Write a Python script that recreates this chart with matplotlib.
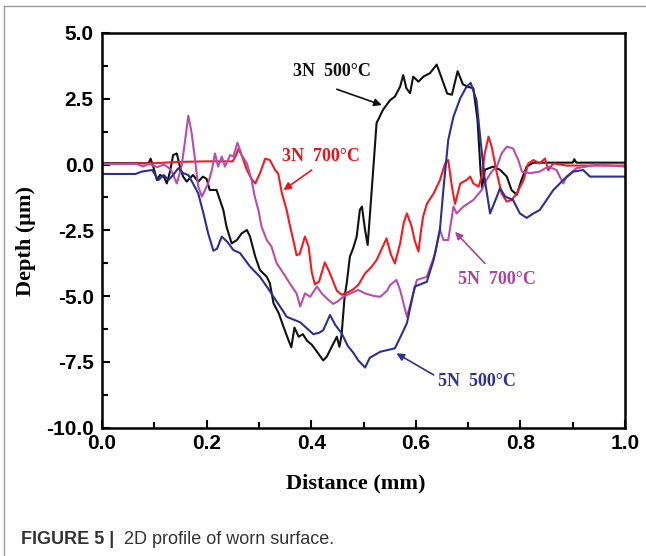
import numpy as np
import matplotlib
matplotlib.use("Agg")
import matplotlib.pyplot as plt
from matplotlib.lines import Line2D
from matplotlib.ticker import MultipleLocator, FormatStrFormatter

# profile traces: distance (mm) vs depth (um)
x_3n500 = [0.0, 0.089, 0.093, 0.098, 0.105, 0.111, 0.118, 0.124, 0.130, 0.136, 0.143, 0.149,
           0.155, 0.162, 0.174, 0.184, 0.193, 0.200, 0.206, 0.219, 0.232, 0.238, 0.248, 0.258,
           0.267, 0.277, 0.283, 0.293, 0.302, 0.315, 0.321, 0.328, 0.338, 0.347, 0.357, 0.362,
           0.368, 0.376, 0.384, 0.392, 0.401, 0.414, 0.423, 0.430, 0.440, 0.449, 0.454, 0.458,
           0.464, 0.468, 0.474, 0.480, 0.487, 0.493, 0.497, 0.503, 0.508, 0.512, 0.519, 0.525,
           0.531, 0.537, 0.551, 0.560, 0.570, 0.576, 0.582, 0.589, 0.595, 0.605, 0.615, 0.627,
           0.640, 0.651, 0.660, 0.669, 0.680, 0.690, 0.700, 0.710, 0.718, 0.724, 0.727, 0.732,
           0.748, 0.761, 0.774, 0.783, 0.793, 0.802, 0.812, 0.825, 0.900, 0.903, 0.907, 1.0]
y_3n500 = [0.05, 0.05, 0.22, -0.08, -0.59, -0.40, -0.46, -0.72, -0.27, 0.36, 0.42, -0.08,
           -0.46, -0.65, -0.40, -0.65, -0.46, -0.55, -0.97, -0.97, -1.73, -2.36, -3.00, -2.87,
           -2.62, -2.49, -2.74, -3.50, -4.01, -4.27, -4.52, -5.28, -5.66, -6.17, -6.70, -6.95,
           -6.20, -6.55, -6.45, -6.70, -6.85, -7.20, -7.45, -7.30, -6.90, -6.55, -6.93, -6.50,
           -5.00, -4.50, -3.50, -3.20, -2.74, -1.73, -1.60, -2.49, -3.06, -1.98, -0.08, 1.58,
           1.82, 2.07, 2.45, 2.58, 2.96, 3.40, 2.90, 2.71, 3.34, 3.15, 3.35, 3.47,
           3.80, 3.20, 2.70, 2.65, 3.55, 3.05, 2.95, 2.90, 1.70, -0.30, -0.90, -0.20,
           -0.08, -0.20, -0.46, -0.97, -1.15, -0.59, -0.08, 0.07, 0.07, 0.20, 0.07, 0.07]

x_3n700 = [0.0, 0.10, 0.15, 0.20, 0.25, 0.256, 0.261, 0.268, 0.277, 0.286, 0.293, 0.302,
           0.312, 0.321, 0.331, 0.337, 0.344, 0.353, 0.359, 0.366, 0.372, 0.378, 0.388, 0.395,
           0.401, 0.407, 0.415, 0.426, 0.435, 0.449, 0.458, 0.468, 0.480, 0.490, 0.503, 0.515,
           0.525, 0.535, 0.544, 0.552, 0.560, 0.570, 0.577, 0.583, 0.592, 0.598, 0.605, 0.610,
           0.614, 0.621, 0.634, 0.646, 0.656, 0.662, 0.669, 0.675, 0.685, 0.697, 0.704, 0.710,
           0.720, 0.726, 0.732, 0.739, 0.745, 0.755, 0.764, 0.774, 0.783, 0.793, 0.806, 0.815,
           0.825, 0.837, 0.847, 0.853, 0.863, 0.888, 1.0]
y_3n700 = [0.02, 0.05, 0.10, 0.12, 0.12, 0.35, 0.60, 0.30, -0.21, -0.55, -0.72, -0.33,
           0.22, 0.17, -0.21, -0.35, -1.10, -1.73, -2.30, -2.90, -3.45, -3.40, -2.74, -3.12,
           -4.10, -4.55, -4.45, -3.72, -4.10, -4.80, -4.95, -4.88, -4.75, -4.58, -4.14, -3.90,
           -3.63, -3.20, -2.81, -3.40, -3.76, -3.00, -2.20, -1.86, -2.36, -2.90, -3.31, -2.50,
           -1.98, -1.50, -1.10, -0.60, 0.04, 0.17, -0.84, -1.50, -0.72, -0.59, -0.46, -0.72,
           -0.84, -0.46, 0.44, 1.06, 0.68, -0.33, -1.10, -1.41, -1.35, -1.10, -0.59, 0.04,
           0.17, 0.04, 0.23, -0.21, 0.04, -0.04, -0.04]

x_5n700 = [0.0, 0.067, 0.078, 0.090, 0.106, 0.118, 0.126, 0.133, 0.143, 0.152, 0.159, 0.165,
           0.171, 0.178, 0.184, 0.191, 0.197, 0.203, 0.210, 0.216, 0.222, 0.229, 0.235, 0.245,
           0.251, 0.259, 0.267, 0.277, 0.286, 0.292, 0.299, 0.305, 0.315, 0.324, 0.334, 0.347,
           0.359, 0.372, 0.379, 0.388, 0.398, 0.411, 0.420, 0.433, 0.442, 0.451, 0.461, 0.475,
           0.490, 0.503, 0.520, 0.532, 0.545, 0.551, 0.563, 0.570, 0.583, 0.592, 0.602, 0.621,
           0.637, 0.646, 0.653, 0.662, 0.672, 0.678, 0.691, 0.710, 0.726, 0.735, 0.745, 0.755,
           0.764, 0.774, 0.786, 0.796, 0.803, 0.818, 0.837, 0.853, 0.869, 0.882, 0.888, 0.907,
           0.926, 0.945, 1.0]
y_5n700 = [0.02, 0.02, -0.08, 0.02, -0.10, 0.00, -0.10, -0.25, -0.72, -0.08, 0.93, 1.85,
           1.25, 0.17, -0.84, -1.22, -0.97, -0.72, -0.21, 0.42, -0.08, 0.30, -0.08, 0.36,
           0.30, 0.83, 0.36, 0.04, -0.59, -1.22, -1.73, -2.36, -2.87, -3.12, -3.76, -4.14,
           -4.52, -4.90, -5.40, -4.90, -5.03, -4.64, -4.90, -5.15, -5.30, -5.20, -5.03, -4.90,
           -4.77, -4.90, -5.00, -5.03, -4.80, -4.58, -4.39, -4.77, -5.79, -5.15, -4.39, -4.27,
           -3.38, -2.49, -2.87, -2.87, -1.60, -1.86, -1.60, -1.35, -0.97, -0.59, -0.27, -0.08,
           0.42, 0.68, 0.61, 0.17, -0.27, -0.33, -0.27, -0.08, -0.21, -0.72, -0.46, -0.14,
           -0.08, 0.00, -0.08]

x_5n500 = [0.0, 0.064, 0.076, 0.096, 0.102, 0.108, 0.118, 0.127, 0.136, 0.146, 0.155, 0.165,
           0.174, 0.184, 0.194, 0.203, 0.213, 0.220, 0.229, 0.240, 0.251, 0.264, 0.283, 0.302,
           0.315, 0.328, 0.347, 0.353, 0.379, 0.404, 0.415, 0.423, 0.436, 0.446, 0.458, 0.470,
           0.481, 0.490, 0.503, 0.512, 0.532, 0.560, 0.572, 0.583, 0.598, 0.621, 0.634, 0.646,
           0.653, 0.662, 0.672, 0.685, 0.697, 0.705, 0.716, 0.723, 0.732, 0.742, 0.755, 0.761,
           0.771, 0.786, 0.799, 0.812, 0.825, 0.837, 0.863, 0.882, 0.901, 0.920, 0.933, 1.0]
y_5n500 = [-0.36, -0.36, -0.27, -0.21, -0.40, -0.59, -0.40, -0.59, -0.40, -0.14, -0.33, -0.40,
           -0.72, -1.10, -1.86, -2.62, -3.28, -3.20, -2.74, -2.95, -3.25, -3.37, -3.88, -4.27,
           -4.64, -5.03, -5.60, -5.79, -6.00, -6.45, -6.40, -6.30, -5.72, -6.10, -6.41, -6.90,
           -7.17, -7.45, -7.72, -7.35, -7.12, -6.99, -6.50, -6.03, -4.64, -4.46, -3.63, -2.49,
           -0.90, 0.93, 1.82, 2.52, 2.96, 3.10, 2.45, 1.06, -0.59, -1.86, -1.22, -0.90,
           -1.22, -1.35, -1.86, -2.03, -1.86, -1.73, -0.97, -0.59, -0.27, -0.21, -0.46, -0.46]

labels = ["3N  500\u00b0C", "3N  700\u00b0C", "5N  700\u00b0C", "5N  500\u00b0C"]
line_colors = ["#111111", "#ee1c24", "#b64fab", "#2b2f8e"]
text_colors = ["#111111", "#e3161d", "#a8449b", "#2e3192"]
# label position, arrow tail, arrow head (data units)
label_xy = [(0.439, 3.52), (0.418, 0.30), (0.755, -4.39), (0.716, -8.26)]
arrow_tail = [(0.449, 2.86), (0.401, -0.21), (0.732, -3.76), (0.634, -8.00)]
arrow_head = [(0.535, 2.26), (0.347, -0.97), (0.675, -2.56), (0.563, -7.18)]

serif = "Liberation Serif"
sans = "Liberation Sans"

fig = plt.figure(figsize=(6.46, 5.56), dpi=100)
ax = fig.add_axes([102 / 646, 1 - 427.5 / 556, 523 / 646, 394.5 / 556])

series = [(x_3n500, y_3n500), (x_3n700, y_3n700), (x_5n700, y_5n700), (x_5n500, y_5n500)]
for (xs, ys), c in zip(series, line_colors):
    ax.plot(xs, ys, color=c, lw=1.5, solid_joinstyle="round")

for lab, c, xy, tail, head in zip(labels, text_colors, label_xy, arrow_tail, arrow_head):
    ax.text(xy[0], xy[1], lab, color=c, ha="center", va="center",
            fontsize=13, fontweight="bold", family=serif)
    ax.annotate("", xy=head, xytext=tail,
                arrowprops=dict(arrowstyle="-|>", color=c, lw=1.2,
                                mutation_scale=11, shrinkA=0, shrinkB=0))

ax.set_xlim(0, 1.0)
ax.set_ylim(-10, 5)
ax.xaxis.set_major_locator(MultipleLocator(0.2))
ax.xaxis.set_minor_locator(MultipleLocator(0.1))
ax.yaxis.set_major_locator(MultipleLocator(2.5))
ax.yaxis.set_minor_locator(MultipleLocator(1.25))
ax.xaxis.set_major_formatter(FormatStrFormatter("%.1f"))
ax.yaxis.set_major_formatter(FormatStrFormatter("%.1f"))
ax.tick_params(which="both", direction="in", top=False, right=False, width=1.5)
ax.tick_params(which="major", length=6)
ax.tick_params(which="minor", length=4.5)
ax.tick_params(axis="x", pad=5)
ax.tick_params(axis="y", pad=6)
for t in ax.get_xticklabels() + ax.get_yticklabels():
    t.set_fontfamily(sans)
    t.set_fontweight("bold")
    t.set_fontsize(15)
for s in ax.spines.values():
    s.set_linewidth(1.8)

ax.set_xlabel("Distance (mm)", family=serif, fontweight="bold", fontsize=16, va="center")
ax.set_ylabel("Depth (\u03bcm)", family=serif, fontweight="bold", fontsize=16, va="center")
ax.xaxis.set_label_coords(0.486, -0.141)
ax.yaxis.set_label_coords(-0.146, 0.473)

# page frame and caption
fig.add_artist(Line2D([4 / 646, 4 / 646], [0, 1 - 5.5 / 556], color="#9a9a9a", lw=1))
fig.add_artist(Line2D([4 / 646, 1], [1 - 5.5 / 556, 1 - 5.5 / 556], color="#9a9a9a", lw=1))
fig.text(20.6 / 646, 1 - 539 / 556, "FIGURE 5 |", family=sans, fontweight="bold",
         fontsize=13, color="#333333", va="center")
fig.text(123.6 / 646, 1 - 539 / 556, "2D profile of worn surface.", family=sans,
         fontsize=13, color="#333333", va="center")

fig.savefig("out.png", dpi=100)
